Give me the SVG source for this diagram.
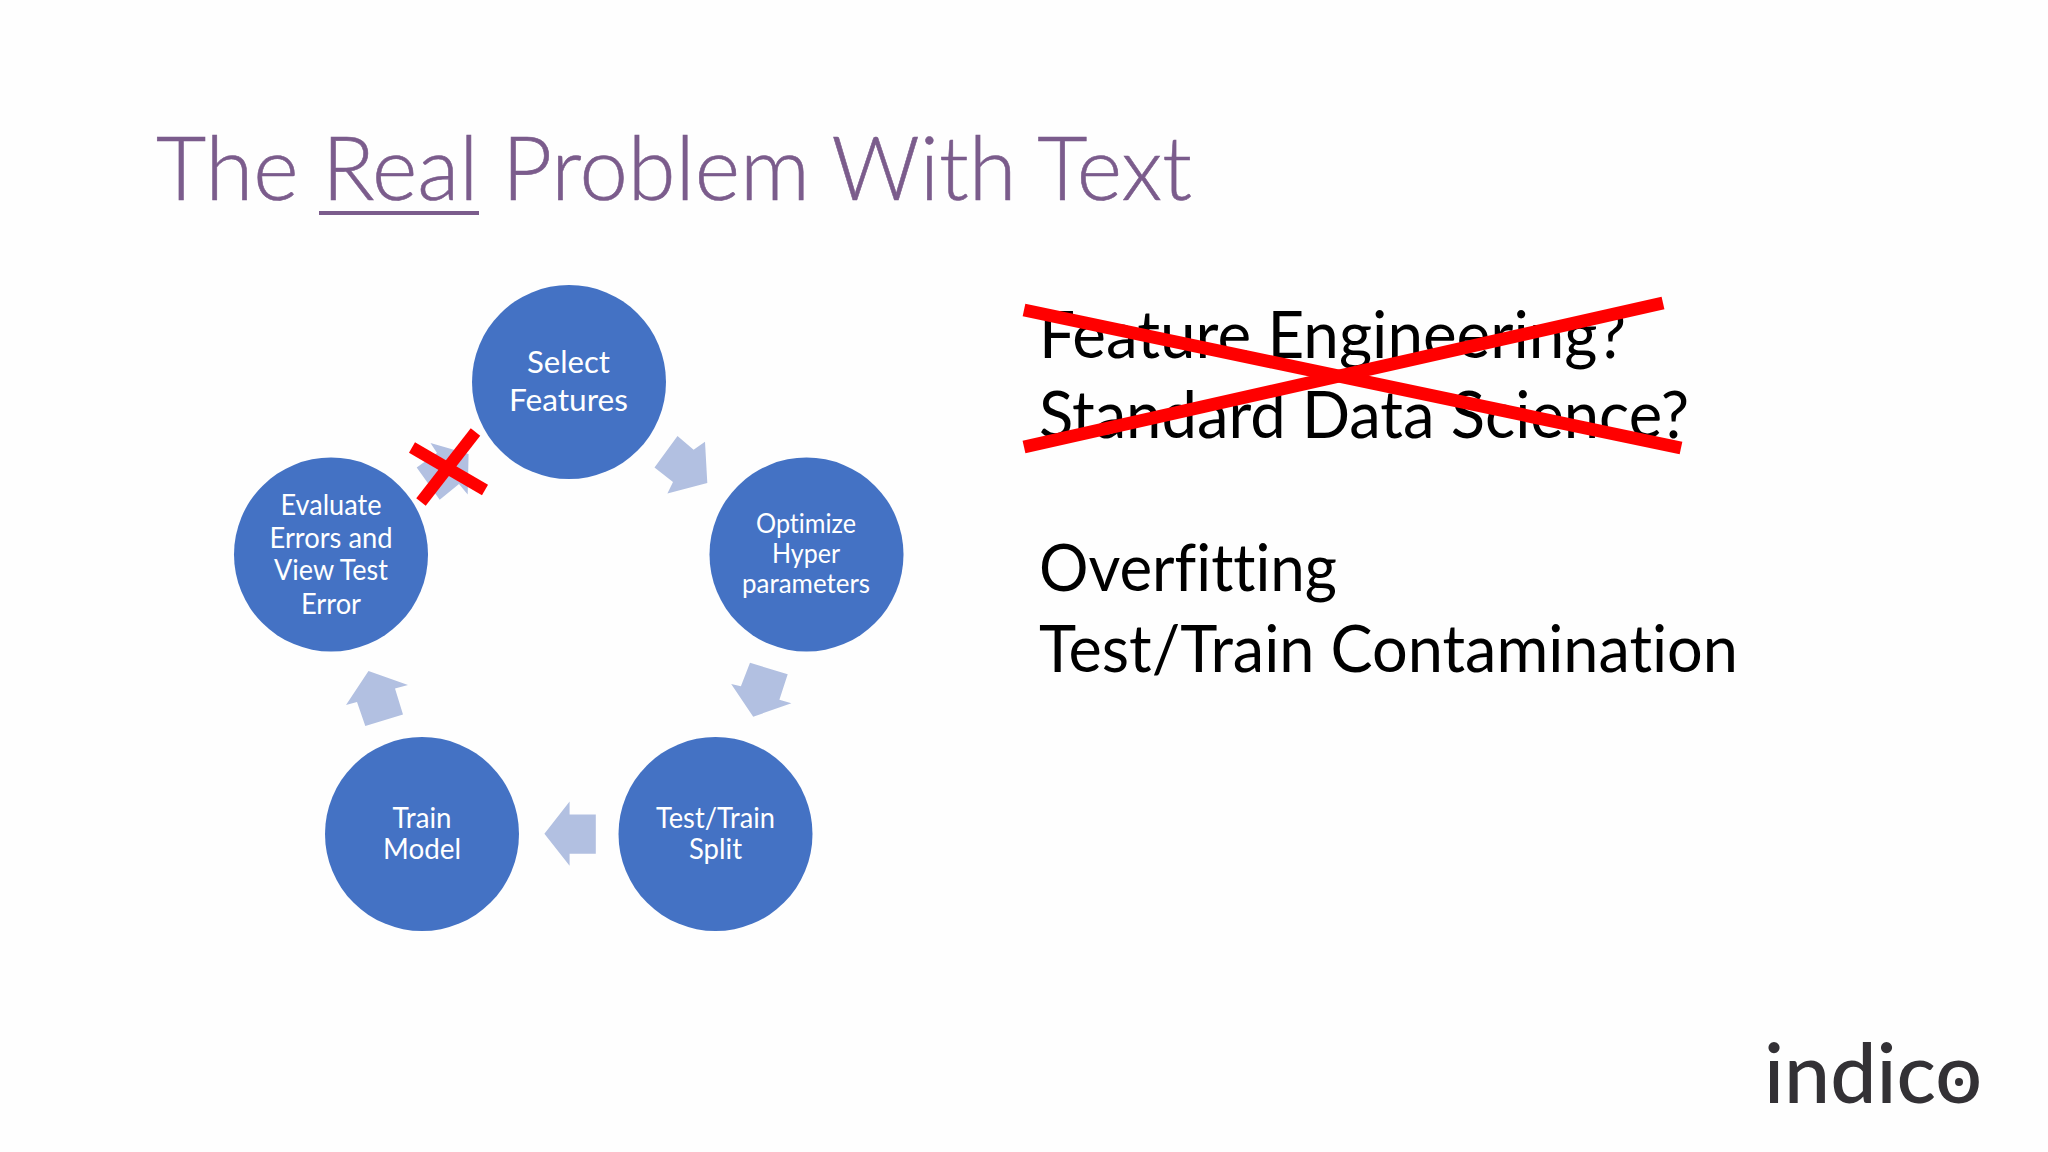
<svg xmlns="http://www.w3.org/2000/svg" width="2048" height="1152" viewBox="0 0 2048 1152">
<style>
text{font-variant-ligatures:none}
.n{fill:#4472c4}
.l{font-family:Lato,"Open Sans",sans-serif;fill:#fff;text-anchor:middle}
.a{fill:#b2c0e1}
.x{stroke:#ff0000;fill:none}
.b{font-family:Lato,"Open Sans",sans-serif;font-size:66px;fill:#000}
</style>
<rect width="2048" height="1152" fill="#fefefe"/>
<g id="title">
<text x="156" y="200" font-family="Lato,'Open Sans',sans-serif" font-weight="300" font-size="88" fill="#7b5c8c" stroke="#7b5c8c" stroke-width="0.6" textLength="1036" lengthAdjust="spacingAndGlyphs">The Real Problem With Text</text>
<rect x="319" y="211" width="160" height="4" fill="#7b5c8c"/>
</g>
<g id="connectors">
<polygon class="a" points="677.5,436 693.6,449.7 705,441.7 707.3,483 667.4,493.5 673,482 654.5,467.6"/>
<polygon class="a" points="750,662.7 787.7,674.3 779.4,699.7 791.4,703.3 753.2,716.7 731.2,684 740.9,686.3"/>
<polygon class="a" points="544.4,833.7 569.6,801.5 569.6,814.5 595.8,814.5 595.8,853.8 569.6,853.8 569.6,865.8"/>
<polygon class="a" points="368.5,671 408,685 395,688.6 403,714.5 365.3,726 357,702 346,705"/>
<polygon class="a" points="430.5,443 468.6,454 467.7,494.4 459,484 439.7,499.7 416.7,467.6 437,453"/>
</g>
<g id="select-features"><circle class="n" cx="569" cy="382" r="97"/>
<text class="l" x="568.5" y="373" font-size="31" textLength="83" lengthAdjust="spacingAndGlyphs">Select</text>
<text class="l" x="568.5" y="411" font-size="31" textLength="119" lengthAdjust="spacingAndGlyphs">Features</text></g>
<g id="optimize"><circle class="n" cx="806.5" cy="554.5" r="97"/>
<text class="l" x="806" y="533" font-size="27" textLength="100" lengthAdjust="spacingAndGlyphs">Optimize</text>
<text class="l" x="806" y="563" font-size="27" textLength="68" lengthAdjust="spacingAndGlyphs">Hyper</text>
<text class="l" x="806" y="593" font-size="27" textLength="128" lengthAdjust="spacingAndGlyphs">parameters</text></g>
<g id="test-train"><circle class="n" cx="715.5" cy="834" r="97"/>
<text class="l" x="715.5" y="828" font-size="29" textLength="119" lengthAdjust="spacingAndGlyphs">Test/Train</text>
<text class="l" x="715.5" y="859" font-size="29" textLength="53" lengthAdjust="spacingAndGlyphs">Split</text></g>
<g id="train-model"><circle class="n" cx="422" cy="834" r="97"/>
<text class="l" x="422" y="828" font-size="29" textLength="59" lengthAdjust="spacingAndGlyphs">Train</text>
<text class="l" x="422" y="859" font-size="29" textLength="78" lengthAdjust="spacingAndGlyphs">Model</text></g>
<g id="evaluate"><circle class="n" cx="331" cy="554.5" r="97"/>
<text class="l" x="331" y="515" font-size="28" textLength="101" lengthAdjust="spacingAndGlyphs">Evaluate</text>
<text class="l" x="331" y="548" font-size="28" textLength="123" lengthAdjust="spacingAndGlyphs">Errors and</text>
<text class="l" x="331" y="580" font-size="28" textLength="114" lengthAdjust="spacingAndGlyphs">View Test</text>
<text class="l" x="331" y="614" font-size="28" textLength="60" lengthAdjust="spacingAndGlyphs">Error</text></g>
<g id="red-x-small"><line class="x" stroke-width="12" x1="475.5" y1="432" x2="421" y2="502"/><line class="x" stroke-width="12" x1="412" y1="447.5" x2="485" y2="490"/></g>
<g id="list">
<text class="b" x="1039" y="358" textLength="587" lengthAdjust="spacingAndGlyphs">Feature Engineering?</text>
<text class="b" x="1039" y="438" textLength="650" lengthAdjust="spacingAndGlyphs">Standard Data Science?</text>
<text class="b" x="1039" y="591" textLength="298" lengthAdjust="spacingAndGlyphs">Overfitting</text>
<text class="b" x="1039" y="672" textLength="699" lengthAdjust="spacingAndGlyphs">Test/Train Contamination</text>
</g>
<g id="red-x-big"><line class="x" stroke-width="13" x1="1024" y1="310" x2="1681" y2="448"/><line class="x" stroke-width="13" x1="1024" y1="447" x2="1663" y2="303"/></g>
<g id="logo">
<text x="1764" y="1103" font-family="Lato,'Open Sans',sans-serif" font-size="84" font-weight="500" fill="#333135" textLength="218" lengthAdjust="spacingAndGlyphs">indico</text>
<circle cx="1959" cy="1082" r="4" fill="#333135"/>
</g>
</svg>
